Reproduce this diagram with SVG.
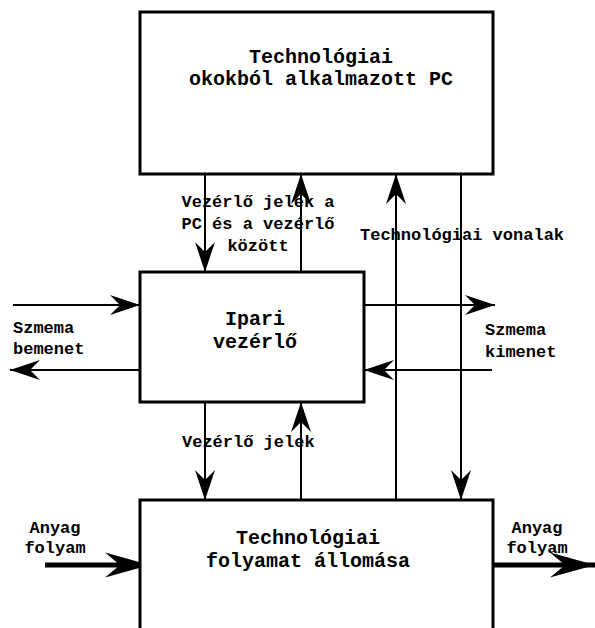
<svg xmlns="http://www.w3.org/2000/svg" width="595" height="628" viewBox="0 0 595 628">
<style>
.box{fill:#fff;stroke:#000;stroke-width:3}
.ln{fill:none;stroke:#000;stroke-width:2}
.thick{fill:none;stroke:#000;stroke-width:5}
.title{font-family:"Liberation Mono","Courier New",monospace;font-weight:bold;font-size:20px;fill:#000;text-anchor:middle}
.lbl{font-family:"Liberation Mono","Courier New",monospace;font-weight:bold;font-size:17px;fill:#000}
.mid{text-anchor:middle}
</style>
<defs>
<marker id="ah" viewBox="-30 -10 30 20" refX="0" refY="0" markerWidth="30" markerHeight="20" markerUnits="userSpaceOnUse" orient="auto">
<path d="M0,0 L-30,-10 L-20,0 L-30,10 Z" fill="#000"/>
</marker>
<marker id="ahb" viewBox="-45 -13 45 26" refX="0" refY="0" markerWidth="45" markerHeight="26" markerUnits="userSpaceOnUse" orient="auto">
<path d="M0,0 L-45,-12.5 L-30,0 L-45,12.5 Z" fill="#000"/>
</marker>
</defs>
<g id="connectors">
<line class="ln" x1="205" y1="174" x2="205" y2="272" marker-end="url(#ah)"/>
<line class="ln" x1="301" y1="272" x2="301" y2="174" marker-end="url(#ah)"/>
<line class="ln" x1="396" y1="500" x2="396" y2="174" marker-end="url(#ah)"/>
<line class="ln" x1="461" y1="174" x2="461" y2="500" marker-end="url(#ah)"/>
<line class="ln" x1="13" y1="305" x2="140" y2="305" marker-end="url(#ah)"/>
<line class="ln" x1="140" y1="370" x2="10" y2="370" marker-end="url(#ah)"/>
<line class="ln" x1="364" y1="305" x2="495" y2="305" marker-end="url(#ah)"/>
<line class="ln" x1="492" y1="370" x2="364" y2="370" marker-end="url(#ah)"/>
<line class="ln" x1="205" y1="402" x2="205" y2="500" marker-end="url(#ah)"/>
<line class="ln" x1="301" y1="500" x2="301" y2="402" marker-end="url(#ah)"/>
<line class="thick" x1="45" y1="565" x2="150" y2="565" marker-end="url(#ahb)"/>
<line class="thick" x1="493" y1="565" x2="595" y2="565" marker-end="url(#ahb)"/>
<text class="lbl mid" x="258" y="207">Vezérlő jelek a</text>
<text class="lbl mid" x="258" y="229">PC és a vezérlő</text>
<text class="lbl mid" x="258" y="251">között</text>
<text class="lbl" x="360" y="240">Technológiai vonalak</text>
<text class="lbl" x="182" y="447">Vezérlő jelek</text>
<text class="lbl" x="13" y="333">Szmema</text>
<text class="lbl" x="13" y="354">bemenet</text>
<text class="lbl" x="485" y="335">Szmema</text>
<text class="lbl" x="485" y="357">kimenet</text>
<text class="lbl mid" x="55" y="533">Anyag</text>
<text class="lbl mid" x="55" y="553">folyam</text>
<text class="lbl mid" x="537" y="533">Anyag</text>
<text class="lbl mid" x="537" y="553">folyam</text>
</g>
<g id="pc">
<rect class="box" x="140" y="12" width="353" height="162"/>
<text class="title" x="321" y="63">Technológiai</text>
<text class="title" x="321" y="85">okokból alkalmazott PC</text>
</g>
<g id="vezerlo">
<rect class="box" x="140" y="272" width="224" height="130"/>
<text class="title" x="255" y="325">Ipari</text>
<text class="title" x="255" y="348">vezérlő</text>
</g>
<g id="allomas">
<rect class="box" x="140" y="500" width="353" height="140"/>
<text class="title" x="308" y="544">Technológiai</text>
<text class="title" x="308" y="567">folyamat állomása</text>
</g>
</svg>
